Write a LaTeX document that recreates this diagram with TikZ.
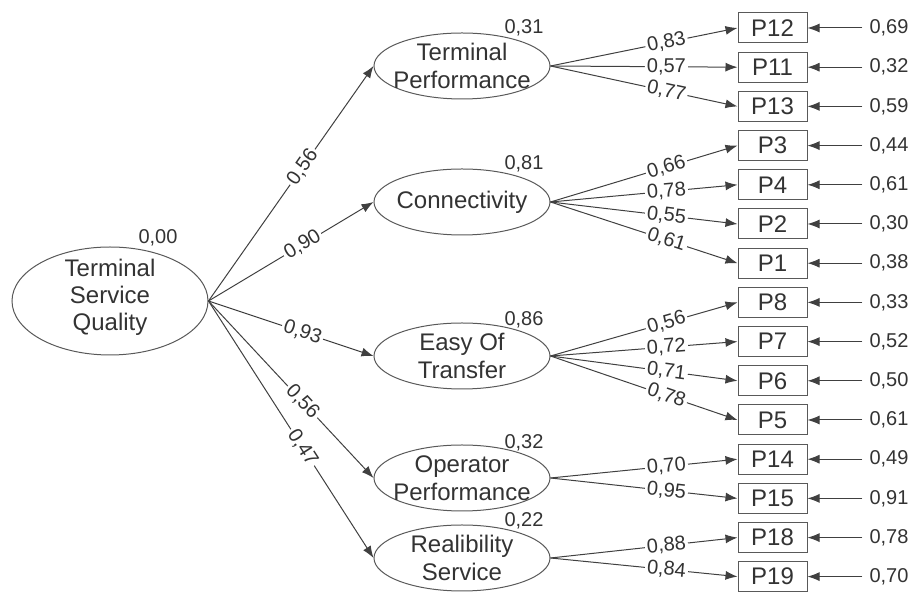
\documentclass[tikz,border=0pt]{standalone}
\usepackage{fontspec}
\setmainfont{Liberation Sans}
\usetikzlibrary{shapes.geometric, arrows.meta}

\begin{document}
\begin{tikzpicture}[x = 0.5pt, y = -0.5pt, > = {Latex[length = 6pt, width = 4.5pt]},
	line width = 0.5pt,
	latent/.style = {draw = black!65, ellipse, minimum width = 88pt, minimum height = 33pt, inner sep = 0pt},
	lbl/.style = {align = center, text = black!80, font = \fontsize{12}{14}\selectfont},
	item/.style = {draw = black!65, rectangle, minimum width = 34.5pt, minimum height = 15pt, inner sep = 0pt, text = black!80, font = \fontsize{12}{14}\selectfont},
	coef/.style = {fill = white, inner sep = 1pt, sloped, text = black!80, font = \fontsize{10}{12}\selectfont},
	err/.style = {text = black!80, font = \fontsize{10}{12}\selectfont},
	link/.style = {->, draw = black!75}]

	\useasboundingbox (0, 0) rectangle (912, 592);

	% Second order factor

	\node [latent, minimum width = 98pt, minimum height = 54pt] (tsq) at (110, 301) {};
	\node [lbl, font = \fontsize{12}{13.5}\selectfont] (tsqt) at (110, 297) {Terminal\\Service\\Quality};
	\node [err] (r2tsq) at ([shift = {(48, -9)}]tsq.north) {0,00};

	% First order factors

	\node [latent] (tp) at (462, 66) {};
	\node [lbl] (tpt) at (tp) {Terminal\\Performance};
	\node [latent] (cn) at (462, 202) {};
	\node [lbl] (cnt) at (cn) {Connectivity};
	\node [latent] (et) at (462, 356) {};
	\node [lbl] (ett) at (et) {Easy Of\\Transfer};
	\node [latent] (op) at (462, 478) {};
	\node [lbl] (opt) at (op) {Operator\\Performance};
	\node [latent] (rs) at (462, 558) {};
	\node [lbl] (rst) at (rs) {Realibility\\Service};

	\node [err] (r2tp) at ([shift = {(62, -5)}]tp.north) {0,31};
	\node [err] (r2cn) at ([shift = {(62, -5)}]cn.north) {0,81};
	\node [err] (r2et) at ([shift = {(62, -3)}]et.north) {0,86};
	\node [err] (r2op) at ([shift = {(62, -2)}]op.north) {0,32};
	\node [err] (r2rs) at ([shift = {(62, -4)}]rs.north) {0,22};

	% Observed items

	\node [item] (p12) at (772.5, 28) {P12};
	\node [item] (p11) at (772.5, 67.2) {P11};
	\node [item] (p13) at (772.5, 106.4) {P13};
	\node [item] (p3) at (772.5, 145.6) {P3};
	\node [item] (p4) at (772.5, 184.8) {P4};
	\node [item] (p2) at (772.5, 224) {P2};
	\node [item] (p1) at (772.5, 263.2) {P1};
	\node [item] (p8) at (772.5, 302.4) {P8};
	\node [item] (p7) at (772.5, 341.6) {P7};
	\node [item] (p6) at (772.5, 380.8) {P6};
	\node [item] (p5) at (772.5, 420) {P5};
	\node [item] (p14) at (772.5, 459.2) {P14};
	\node [item] (p15) at (772.5, 498.4) {P15};
	\node [item] (p18) at (772.5, 537.6) {P18};
	\node [item] (p19) at (772.5, 576.6) {P19};

	% Error terms

	\node [err] (e12) at (889, 28) {0,69};
	\node [err] (e11) at (889, 67.2) {0,32};
	\node [err] (e13) at (889, 106.4) {0,59};
	\node [err] (e3) at (889, 145.6) {0,44};
	\node [err] (e4) at (889, 184.8) {0,61};
	\node [err] (e2) at (889, 224) {0,30};
	\node [err] (e1) at (889, 263.2) {0,38};
	\node [err] (e8) at (889, 302.4) {0,33};
	\node [err] (e7) at (889, 341.6) {0,52};
	\node [err] (e6) at (889, 380.8) {0,50};
	\node [err] (e5) at (889, 420) {0,61};
	\node [err] (e14) at (889, 459.2) {0,49};
	\node [err] (e15) at (889, 498.4) {0,91};
	\node [err] (e18) at (889, 537.6) {0,78};
	\node [err] (e19) at (889, 576.6) {0,70};

	% Structural paths

	\begin{scope}[every node/.style = {coef, pos = 0.57}]

		\draw [link] (tsq.east) -- node {0,56} (tp.west);
		\draw [link] (tsq.east) -- node {0,90} (cn.west);
		\draw [link] (tsq.east) -- node {0,93} (et.west);
		\draw [link] (tsq.east) -- node {0,56} (op.west);
		\draw [link] (tsq.east) -- node {0,47} (rs.west);

	\end{scope}

	% Loadings

	\begin{scope}[every node/.style = {coef, pos = 0.62}]

		\draw [link] (tp.east) -- node {0,83} (p12.west);
		\draw [link] (tp.east) -- node {0,57} (p11.west);
		\draw [link] (tp.east) -- node {0,77} (p13.west);

		\draw [link] (cn.east) -- node {0,66} (p3.west);
		\draw [link] (cn.east) -- node {0,78} (p4.west);
		\draw [link] (cn.east) -- node {0,55} (p2.west);
		\draw [link] (cn.east) -- node {0,61} (p1.west);

		\draw [link] (et.east) -- node {0,56} (p8.west);
		\draw [link] (et.east) -- node {0,72} (p7.west);
		\draw [link] (et.east) -- node {0,71} (p6.west);
		\draw [link] (et.east) -- node {0,78} (p5.west);

		\draw [link] (op.east) -- node {0,70} (p14.west);
		\draw [link] (op.east) -- node {0,95} (p15.west);

		\draw [link] (rs.east) -- node {0,88} (p18.west);
		\draw [link] (rs.east) -- node {0,84} (p19.west);

	\end{scope}

	% Error arrows

	\draw [link] (e12) -- (p12);
	\draw [link] (e11) -- (p11);
	\draw [link] (e13) -- (p13);
	\draw [link] (e3) -- (p3);
	\draw [link] (e4) -- (p4);
	\draw [link] (e2) -- (p2);
	\draw [link] (e1) -- (p1);
	\draw [link] (e8) -- (p8);
	\draw [link] (e7) -- (p7);
	\draw [link] (e6) -- (p6);
	\draw [link] (e5) -- (p5);
	\draw [link] (e14) -- (p14);
	\draw [link] (e15) -- (p15);
	\draw [link] (e18) -- (p18);
	\draw [link] (e19) -- (p19);

\end{tikzpicture}
\end{document}
